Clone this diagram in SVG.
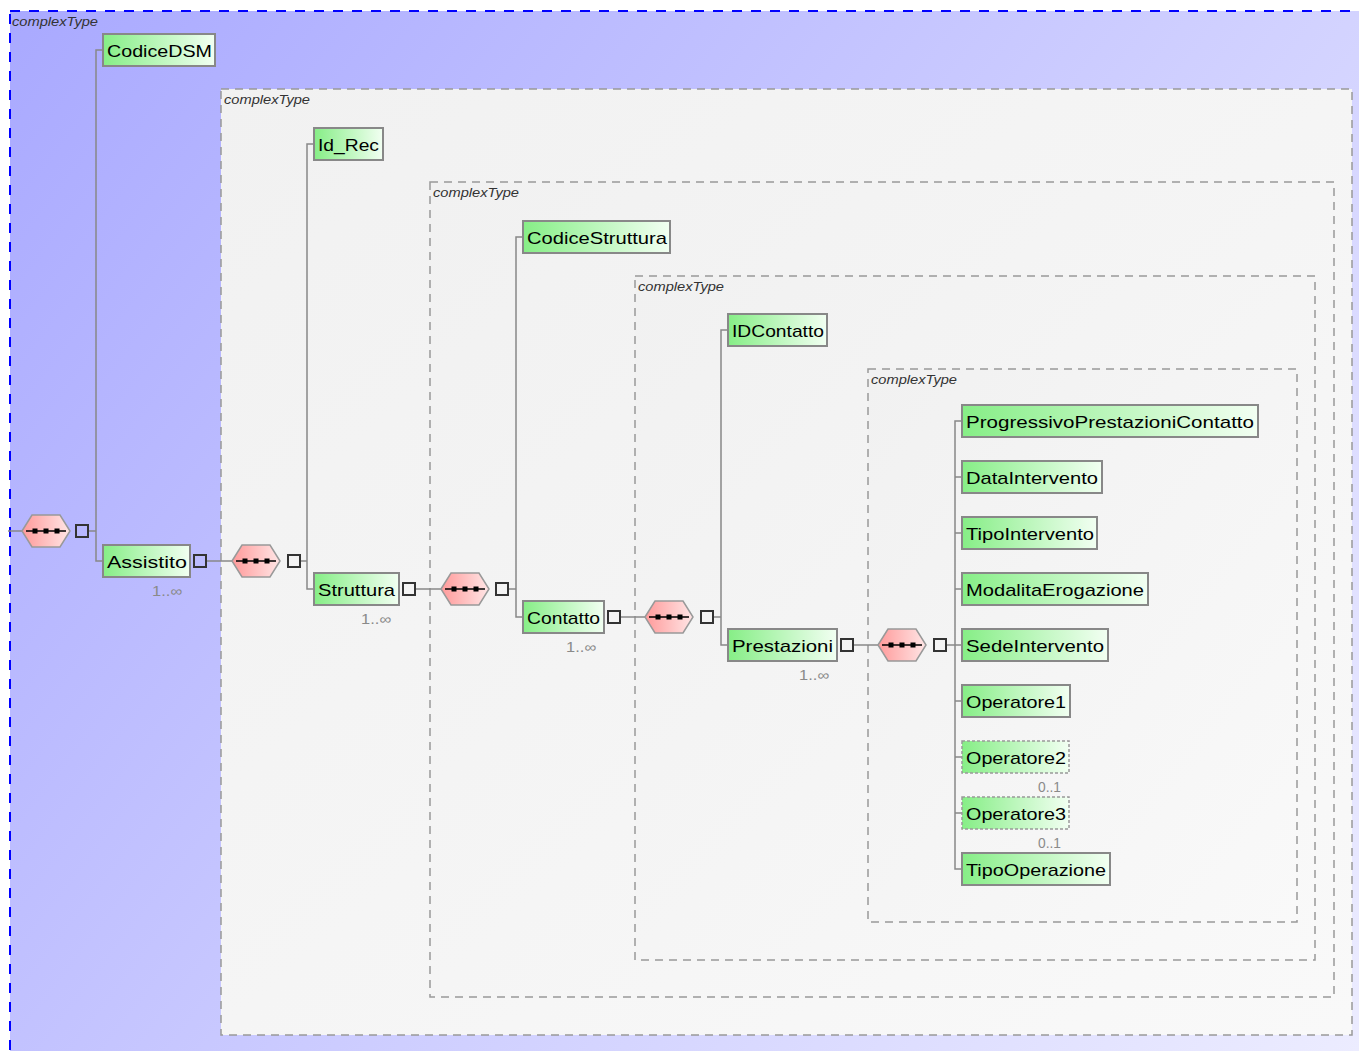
<svg xmlns="http://www.w3.org/2000/svg" width="1359" height="1051" viewBox="0 0 1359 1051">
  <defs>
    <linearGradient id="bgBlue" gradientUnits="userSpaceOnUse" x1="10" y1="11" x2="1359" y2="1051">
      <stop offset="0" stop-color="#a9a9ff"/>
      <stop offset="1" stop-color="#ececff"/>
    </linearGradient>
    <linearGradient id="bgGrey" x1="0" y1="0" x2="1" y2="1">
      <stop offset="0" stop-color="#f1f1f1"/>
      <stop offset="1" stop-color="#f9f9f9"/>
    </linearGradient>
    <linearGradient id="elFill" x1="0" y1="0" x2="1" y2="0">
      <stop offset="0" stop-color="#86ee86"/>
      <stop offset="1" stop-color="#f2fff2"/>
    </linearGradient>
    <linearGradient id="seqFill" x1="0" y1="0" x2="1" y2="0">
      <stop offset="0" stop-color="#ff9a9a"/>
      <stop offset="1" stop-color="#ffe6e6"/>
    </linearGradient>
    <!-- sequence compositor symbol, centred on (0,0) -->
    <g id="seq">
      <polygon points="-24,0 -14,-16 14,-16 24,0 14,16 -14,16" fill="url(#seqFill)" stroke="#999" stroke-width="1.5"/>
      <line x1="-20" y1="0" x2="20" y2="0" stroke="#000" stroke-width="1.6"/>
      <rect x="-13.5" y="-2.5" width="5" height="5" fill="#000"/>
      <rect x="-2.5" y="-2.5" width="5" height="5" fill="#000"/>
      <rect x="8.5" y="-2.5" width="5" height="5" fill="#000"/>
    </g>
    <!-- collapse/expand box, centred on (0,0) -->
    <rect id="box" x="-6" y="-6" width="12" height="12" fill="none" stroke="#333" stroke-width="2"/>
  </defs>
  <style>
    .ct { fill: url(#bgGrey); stroke: #999; stroke-width: 1.5; stroke-dasharray: 8 6; }
    .ctlbl { font-family: "Liberation Sans", Arial, sans-serif; font-style: italic; font-size: 12px; fill: #333; }
    .el { fill: url(#elFill); stroke: #888; stroke-width: 2; }
    .opt { fill: url(#elFill); stroke: #999; stroke-width: 1.5; stroke-dasharray: 3 2; }
    .lbl { font-family: "Liberation Sans", Arial, sans-serif; font-size: 17px; fill: #000; }
    .occ { font-family: "Liberation Sans", Arial, sans-serif; font-size: 14px; fill: #8a8a8a; }
    .wire { fill: none; stroke: #888; stroke-width: 1.5; }
  </style>

  <rect x="0" y="0" width="1359" height="1051" fill="#fff"/>

  <!-- outer complexType -->
  <rect x="10" y="11" width="1360" height="1050" fill="url(#bgBlue)" stroke="#0000ff" stroke-width="2" stroke-dasharray="10 9"/>
  <text class="ctlbl" x="12" y="26" textLength="86" lengthAdjust="spacingAndGlyphs">complexType</text>

  <!-- nested complexType frames -->
  <g id="ct-assistito">
    <rect class="ct" x="221" y="89" width="1131" height="946"/>
    <text class="ctlbl" x="224" y="104" textLength="86" lengthAdjust="spacingAndGlyphs">complexType</text>
  </g>
  <g id="ct-struttura">
    <rect class="ct" x="430" y="182" width="904" height="815"/>
    <text class="ctlbl" x="433" y="197" textLength="86" lengthAdjust="spacingAndGlyphs">complexType</text>
  </g>
  <g id="ct-contatto">
    <rect class="ct" x="635" y="276" width="680" height="684"/>
    <text class="ctlbl" x="638" y="291" textLength="86" lengthAdjust="spacingAndGlyphs">complexType</text>
  </g>
  <g id="ct-prestazioni">
    <rect class="ct" x="868" y="369" width="429" height="553"/>
    <text class="ctlbl" x="871" y="384" textLength="86" lengthAdjust="spacingAndGlyphs">complexType</text>
  </g>

  <!-- connectors -->
  <g id="connectors" class="wire">
    <path d="M8 531 H22"/>
    <path d="M88 531 H96"/>
    <path d="M103 50 H96 V561 H103"/>

    <path d="M206 561 H232"/>
    <path d="M300 561 H307"/>
    <path d="M314 144 H307 V589 H314"/>

    <path d="M415 589 H441"/>
    <path d="M508 589 H516"/>
    <path d="M523 237 H516 V617 H523"/>

    <path d="M620 617 H645"/>
    <path d="M713 617 H721"/>
    <path d="M728 330 H721 V645 H728"/>

    <path d="M853 645 H878"/>
    <path d="M946 645 H955"/>
    <path d="M962 421 H955 V869 H962"/>
    <path d="M955 477 H962 M955 533 H962 M955 589 H962 M955 645 H962 M955 701 H962 M955 757 H962 M955 813 H962"/>
  </g>

  <!-- compositors -->
  <g id="seq-root"><use href="#seq" x="46" y="531"/><use href="#box" x="82" y="531"/></g>
  <g id="seq-assistito"><use href="#seq" x="256" y="561"/><use href="#box" x="294" y="561"/></g>
  <g id="seq-struttura"><use href="#seq" x="465" y="589"/><use href="#box" x="502" y="589"/></g>
  <g id="seq-contatto"><use href="#seq" x="669" y="617"/><use href="#box" x="707" y="617"/></g>
  <g id="seq-prestazioni"><use href="#seq" x="902" y="645"/><use href="#box" x="940" y="645"/></g>

  <!-- elements -->
  <g id="n-CodiceDSM">
    <rect class="el" x="103" y="34" width="112" height="32"/>
    <text class="lbl" x="107" y="57" textLength="105" lengthAdjust="spacingAndGlyphs">CodiceDSM</text>
  </g>
  <g id="n-Assistito">
    <rect class="el" x="103" y="545" width="87" height="32"/>
    <text class="lbl" x="107" y="568" textLength="80" lengthAdjust="spacingAndGlyphs">Assistito</text>
    <use href="#box" x="200" y="561"/>
    <text class="occ" x="152" y="596" textLength="30" lengthAdjust="spacingAndGlyphs">1..∞</text>
  </g>
  <g id="n-Id_Rec">
    <rect class="el" x="314" y="128" width="69" height="32"/>
    <text class="lbl" x="318" y="151" textLength="61" lengthAdjust="spacingAndGlyphs">Id_Rec</text>
  </g>
  <g id="n-Struttura">
    <rect class="el" x="314" y="573" width="85" height="32"/>
    <text class="lbl" x="318" y="596" textLength="77" lengthAdjust="spacingAndGlyphs">Struttura</text>
    <use href="#box" x="409" y="589"/>
    <text class="occ" x="361" y="624" textLength="30" lengthAdjust="spacingAndGlyphs">1..∞</text>
  </g>
  <g id="n-CodiceStruttura">
    <rect class="el" x="523" y="221" width="147" height="32"/>
    <text class="lbl" x="527" y="244" textLength="140" lengthAdjust="spacingAndGlyphs">CodiceStruttura</text>
  </g>
  <g id="n-Contatto">
    <rect class="el" x="523" y="601" width="81" height="32"/>
    <text class="lbl" x="527" y="624" textLength="73" lengthAdjust="spacingAndGlyphs">Contatto</text>
    <use href="#box" x="614" y="617"/>
    <text class="occ" x="566" y="652" textLength="30" lengthAdjust="spacingAndGlyphs">1..∞</text>
  </g>
  <g id="n-IDContatto">
    <rect class="el" x="728" y="314" width="99" height="32"/>
    <text class="lbl" x="732" y="337" textLength="92" lengthAdjust="spacingAndGlyphs">IDContatto</text>
  </g>
  <g id="n-Prestazioni">
    <rect class="el" x="728" y="629" width="109" height="32"/>
    <text class="lbl" x="732" y="652" textLength="101" lengthAdjust="spacingAndGlyphs">Prestazioni</text>
    <use href="#box" x="847" y="645"/>
    <text class="occ" x="799" y="680" textLength="30" lengthAdjust="spacingAndGlyphs">1..∞</text>
  </g>
  <g id="n-ProgressivoPrestazioniContatto">
    <rect class="el" x="962" y="405" width="296" height="32"/>
    <text class="lbl" x="966" y="428" textLength="288" lengthAdjust="spacingAndGlyphs">ProgressivoPrestazioniContatto</text>
  </g>
  <g id="n-DataIntervento">
    <rect class="el" x="962" y="461" width="140" height="32"/>
    <text class="lbl" x="966" y="484" textLength="132" lengthAdjust="spacingAndGlyphs">DataIntervento</text>
  </g>
  <g id="n-TipoIntervento">
    <rect class="el" x="962" y="517" width="135" height="32"/>
    <text class="lbl" x="966" y="540" textLength="128" lengthAdjust="spacingAndGlyphs">TipoIntervento</text>
  </g>
  <g id="n-ModalitaErogazione">
    <rect class="el" x="962" y="573" width="186" height="32"/>
    <text class="lbl" x="966" y="596" textLength="178" lengthAdjust="spacingAndGlyphs">ModalitaErogazione</text>
  </g>
  <g id="n-SedeIntervento">
    <rect class="el" x="962" y="629" width="146" height="32"/>
    <text class="lbl" x="966" y="652" textLength="138" lengthAdjust="spacingAndGlyphs">SedeIntervento</text>
  </g>
  <g id="n-Operatore1">
    <rect class="el" x="962" y="685" width="108" height="32"/>
    <text class="lbl" x="966" y="708" textLength="100" lengthAdjust="spacingAndGlyphs">Operatore1</text>
  </g>
  <g id="n-Operatore2">
    <rect class="opt" x="962" y="741" width="107" height="32"/>
    <text class="lbl" x="966" y="764" textLength="100" lengthAdjust="spacingAndGlyphs">Operatore2</text>
    <text class="occ" x="1038" y="792" textLength="23" lengthAdjust="spacingAndGlyphs">0..1</text>
  </g>
  <g id="n-Operatore3">
    <rect class="opt" x="962" y="797" width="107" height="32"/>
    <text class="lbl" x="966" y="820" textLength="100" lengthAdjust="spacingAndGlyphs">Operatore3</text>
    <text class="occ" x="1038" y="848" textLength="23" lengthAdjust="spacingAndGlyphs">0..1</text>
  </g>
  <g id="n-TipoOperazione">
    <rect class="el" x="962" y="853" width="148" height="32"/>
    <text class="lbl" x="966" y="876" textLength="140" lengthAdjust="spacingAndGlyphs">TipoOperazione</text>
  </g>
</svg>
